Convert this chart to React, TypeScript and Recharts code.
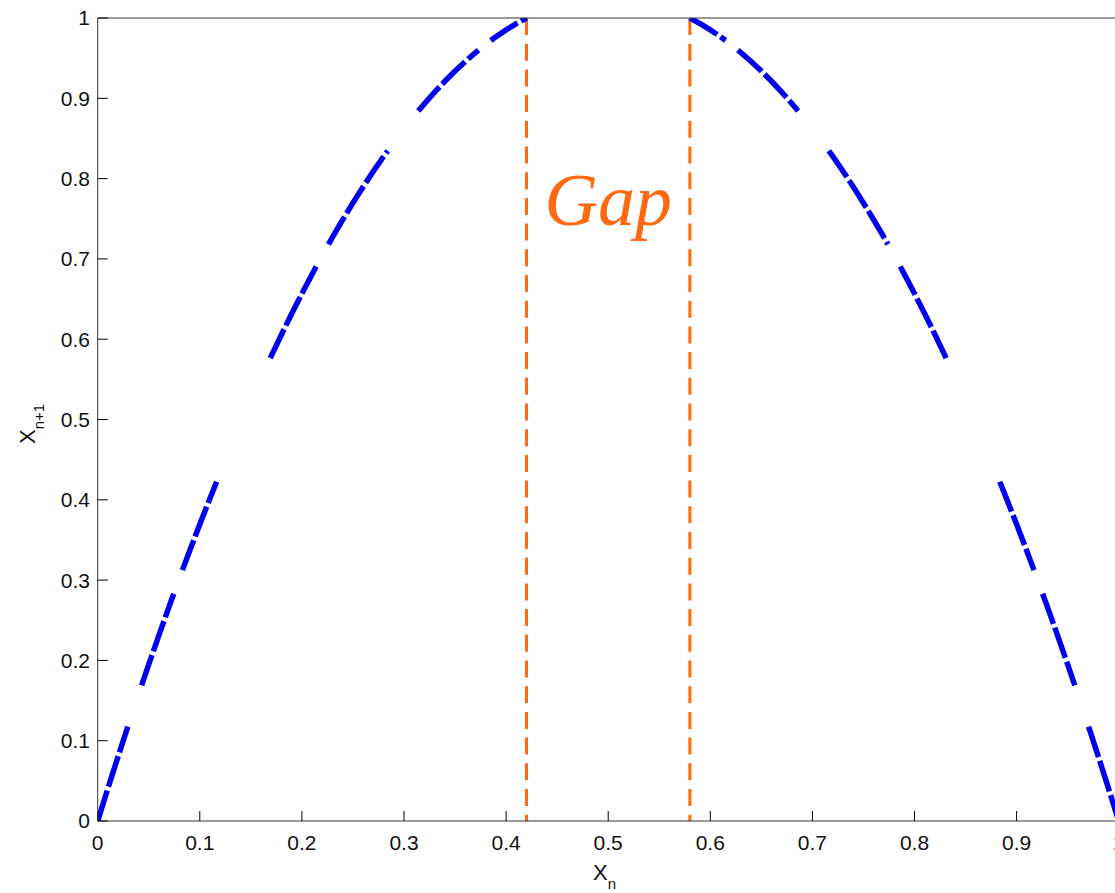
import React from 'react';
import { LineChart, Line, XAxis, YAxis, ReferenceLine, ReferenceDot } from 'recharts';

// Tick values / labels
const xTicks = [0, 0.1, 0.2, 0.3, 0.4, 0.5, 0.6, 0.7, 0.8, 0.9, 1];
const yTicks = [0, 0.1, 0.2, 0.3, 0.4, 0.5, 0.6, 0.7, 0.8, 0.9, 1];

// Map samples: x_n and x_{n+1} (null = gap in the drawn curve)
const xn = [
  0, 0.01, 0.02, 0.0295, 0.036,
  0.043, 0.05, 0.06, 0.07, 0.0745, 0.079,
  0.083, 0.09, 0.1, 0.11, 0.1165, 0.14,
  0.169, 0.18, 0.19, 0.2, 0.21, 0.214, 0.22,
  0.226, 0.23, 0.24, 0.25, 0.26, 0.27, 0.28, 0.284, 0.3,
  0.314, 0.32, 0.33, 0.34, 0.35, 0.36, 0.37, 0.373, 0.38,
  0.385, 0.39, 0.4, 0.41, 0.42, 0.5,
  0.58, 0.59, 0.6, 0.61, 0.615, 0.62,
  0.627, 0.63, 0.64, 0.65, 0.66, 0.67, 0.68, 0.686, 0.7,
  0.716, 0.72, 0.73, 0.74, 0.75, 0.76, 0.77, 0.774, 0.78,
  0.786, 0.79, 0.8, 0.81, 0.82, 0.831, 0.86,
  0.8835, 0.89, 0.9, 0.91, 0.917, 0.921,
  0.9255, 0.93, 0.94, 0.95, 0.957, 0.964,
  0.9705, 0.98, 0.99, 1.0,
];
const xn1: (number | null)[] = [
  0, 0.0406, 0.0805, 0.1175, null,
  0.1689, 0.195, 0.2315, 0.2672, 0.283, null,
  0.3124, 0.3362, 0.3695, 0.4019, 0.4225, null,
  0.5765, 0.6059, 0.6318, 0.6568, 0.681, 0.6905, null,
  0.7181, 0.727, 0.7488, 0.7697, 0.7898, 0.8091, 0.8276, 0.8347, null,
  0.8843, 0.8933, 0.9076, 0.9212, 0.9339, 0.9458, 0.9569, 0.9601, null,
  0.972, 0.9766, 0.9852, 0.993, 1.0, null,
  1.0, 0.993, 0.9852, 0.9766, 0.972, null,
  0.9601, 0.9569, 0.9458, 0.9339, 0.9212, 0.9076, 0.8933, 0.8843, null,
  0.8347, 0.8276, 0.8091, 0.7898, 0.7697, 0.7488, 0.727, 0.7181, null,
  0.6905, 0.681, 0.6568, 0.6318, 0.6059, 0.5765, null,
  0.4225, 0.4019, 0.3695, 0.3362, 0.3124, null,
  0.283, 0.2672, 0.2315, 0.195, 0.1689, null,
  0.1175, 0.0805, 0.0406, 0,
];

// Gap boundaries and annotation
const gapEdges = [0.42, 0.58];
const gapLabel = 'Gap';
const gapLabelPos = { x: 0.5, y: 0.775 };

const data = xn.map((x, i) => ({ x, y: xn1[i] }));

const AXIS = '#333';
const FONT = '"Liberation Sans", Arial, sans-serif';
const tickStyle = { fill: '#111', fontSize: 21, fontFamily: FONT };

export default function App() {
  return (
    <div style={{ position: 'absolute', left: 0, top: 0, width: 1115, height: 893, overflow: 'hidden', background: '#fff' }}>
      <LineChart
        width={1140}
        height={893}
        data={data}
        margin={{ top: 17, right: 20.3, left: 37.7, bottom: 32 }}
      >
        <XAxis
          xAxisId="b"
          dataKey="x"
          type="number"
          domain={[0, 1]}
          ticks={xTicks}
          orientation="bottom"
          height={40}
          tickSize={-10}
          tickMargin={24}
          interval={0}
          allowDataOverflow
          stroke={AXIS}
          tickLine={{ stroke: '#000' }}
          tick={tickStyle}
        />
        <XAxis
          xAxisId="t"
          dataKey="x"
          type="number"
          domain={[0, 1]}
          ticks={xTicks}
          orientation="top"
          height={1}
          tickSize={-10}
          interval={0}
          stroke={AXIS}
          tickLine={{ stroke: '#000' }}
          tick={false}
        />
        <YAxis
          yAxisId="l"
          type="number"
          domain={[0, 1]}
          ticks={yTicks}
          orientation="left"
          width={60}
          tickSize={-10}
          tickMargin={17.7}
          interval={0}
          allowDataOverflow
          stroke={AXIS}
          tickLine={{ stroke: '#000' }}
          tick={tickStyle}
        />
        <YAxis
          yAxisId="r"
          type="number"
          domain={[0, 1]}
          ticks={yTicks}
          orientation="right"
          width={1}
          tickSize={-10}
          interval={0}
          stroke={AXIS}
          tickLine={{ stroke: '#000' }}
          tick={false}
        />
        {gapEdges.map((g) => (
          <ReferenceLine
            key={g}
            xAxisId="b"
            yAxisId="l"
            segment={[{ x: g, y: 1 }, { x: g, y: 0 }]}
            stroke="#FF6A10"
            strokeWidth={3}
            strokeDasharray="17 8.7"
          />
        ))}
        <Line
          xAxisId="b"
          yAxisId="l"
          dataKey="y"
          type="linear"
          stroke="#0000EE"
          strokeWidth={5.5}
          strokeDasharray="32 4"
          dot={false}
          activeDot={false}
          connectNulls={false}
          isAnimationActive={false}
        />
        <ReferenceDot
          xAxisId="b"
          yAxisId="l"
          x={gapLabelPos.x}
          y={gapLabelPos.y}
          r={0}
          stroke="none"
          fill="none"
          label={{
            value: gapLabel,
            position: 'center',
            fill: '#FF6A10',
            fontSize: 74,
            fontStyle: 'italic',
            fontFamily: '"Liberation Serif", "Times New Roman", serif',
          }}
        />
      </LineChart>
      <svg
        width={1115}
        height={893}
        style={{ position: 'absolute', left: 0, top: 0, pointerEvents: 'none' }}
      >
        <text x={593} y={880} fontSize={22} fontFamily={FONT} fill="#111">
          X<tspan dy={9} fontSize={15}>n</tspan>
        </text>
        <text transform="translate(35,444) rotate(-90)" fontSize={22} fontFamily={FONT} fill="#111">
          X<tspan dy={9} fontSize={15}>n+1</tspan>
        </text>
      </svg>
    </div>
  );
}
